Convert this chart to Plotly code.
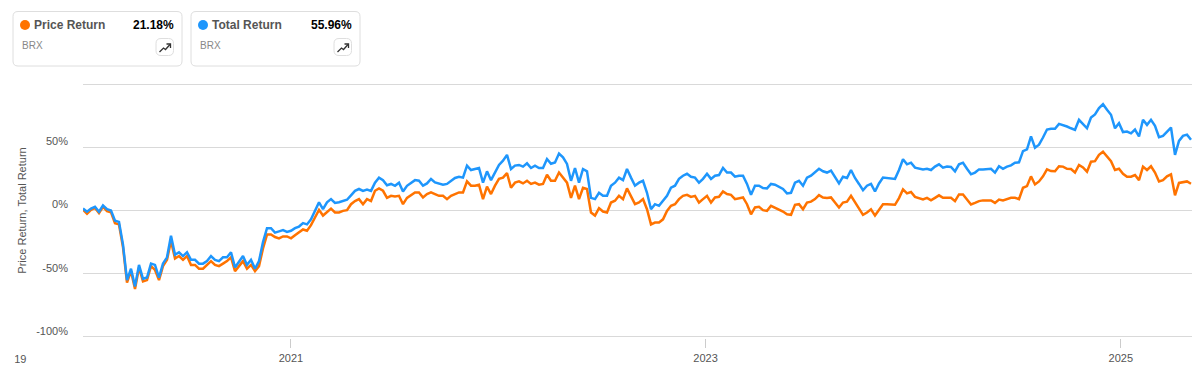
import pandas as pd
import plotly.graph_objects as go

W, H = 1198, 388
L, R, T, B = 83, 1192, 83, 338

START_DATE = "2020-01-01"
DAYS_PER_PX = 1.7604

total_return = [
    1.5,-1,1.5,3,-1,4,1,0,-8,-9,-27,-55,-46,-60,-43,-54,-53,-42,-43,-53,-42,-37,-20,-35,-33,-36,-33,-39,-39,-42,-42,-40,-36,-39,-40,-37,-37,-33,-45,-40,-36,-43,-39,-46,-40,-25,-14,
    -14,-17.5,-16.5,-15.5,-17,-16,-14,-12.7,-10,-11,-7,0.5,6.5,1,6.5,9,6,6.5,7.5,8.5,12,15.5,17,15.5,16.5,15.5,22,26,24,20,21,19.5,22,15,19.5,21.7,24,23.5,
    19.6,21.4,24.9,22.2,21.4,20.4,21,23.5,25.7,26.7,26,35.5,32,32.8,33.6,22,31,24,30,36,39.4,44,32.8,35.5,36,34.7,37.3,33.6,35.5,33.6,33.6,40.7,37,38,45,42,36.8,23.5,33.6,22,
    32.8,31,10,9,14,11.6,11.6,19.6,22,26,24,32.8,26,19.6,22,23.5,14,1,5,3.7,7.7,11.6,18,19.6,25,27.5,29,26.7,26,22,25,29,25,27.5,28,33.6,30,30,26.7,27.5,
    27.5,21,12.4,19.6,19.6,17.7,17.5,21,20.4,18.8,17,13.5,14,22,23.5,19.6,26,27.5,30,33,31,30,31.5,26,21.4,26.7,25.7,32,25.7,21,16,19.6,21,15,21.4,26,25.7,25.7,25,32,
    40.5,36.5,37.8,33.9,33,32.5,33,32,34.7,36.5,33.9,34.7,34.4,31,36.5,37.8,33,28.6,30,32.5,32.5,33,33,30,35,33,34.7,35.7,37.8,38,47,48.4,58.6,49.7,52,57.7,64,
    64.6,64.6,68.5,67.7,66.4,65,63.8,71.7,68,65,73.5,76,81,84,79.6,75.7,65,69,62,62.4,61,64,58.5,71.7,67.7,71.7,67,58,59,62,65.6,44,55,59,60,55.96,
]

price_return = [
    0.5,-2.5,0.5,2,-2,3,-0.5,-1.5,-10,-11,-29,-57,-48,-62,-45,-56,-55,-44,-47,-55,-44,-39,-24,-38,-36,-39,-36,-43,-43,-46,-46,-43,-40,-43,-44,-42,-40,-37,-48,-44,-40,-46,-43,-48,-44,-30,-19,
    -19,-21,-22,-20.5,-20.5,-22,-19.5,-17,-15,-16,-11.6,-5.5,0.5,-4,-1,1.5,-1.5,-1.5,-0.3,0.3,5,7.5,9,5,9,7.5,15.6,17.5,15.6,10,11.6,11,11.6,5,10,12,14.3,14.3,
    10.3,13,14.3,13,11.6,11.6,9,11.6,13,14.3,14.3,23,19.6,19.6,20.4,9,18.8,13,19.6,25,26,29.6,18,22,23,21.4,23.5,21,22,20.4,21,28.3,23.5,23.5,30,26,22,10,19.6,9,
    18,17,-1.6,-4,1.9,-0.8,-1.6,6.3,7.7,11.6,9,17.5,11.6,5,6.3,9,1,-11,-9.5,-9.5,-7,-0.3,3.7,5,9,11.6,12.4,10.8,11.6,6.3,9,11.6,6.3,10.3,10.8,15,13,12.4,9,9.8,
    10.3,5,-3,2.4,2.9,0.3,-0.3,3.7,2.4,1,-0.8,-3,-3.4,4.5,5,1,6.3,7,9,12.2,10.3,9.8,10.3,6.3,2.4,6.3,7,11.6,6.3,1,-3.4,-1.6,1,-4,1,5,5,4.5,4.5,9.8,
    16.7,13.5,14.6,10.8,10,8.7,10,8,10,12,10,10,10,7.4,12.7,12.7,8.7,4.8,6,7.4,8,8,8,6,8.7,8,9.3,10,10,9,18,19.3,27,20.6,23,27,32.5,
    31.2,31,35,34.7,33,32.8,30,36,34,30.7,38.6,39,44,46.5,42.6,39,32,33,29,26.7,26.7,28,24,34.7,32,35,30,23,24,27,28.6,12,21.8,22.5,23,21.18,
]

y_ticks = [-100, -50, 0, 50, 100]
y_labels = ["-100%", "-50%", "0%", "50%", ""]
x_ticks = ["2021-01-01", "2023-01-01", "2025-01-01"]
x_labels = ["2021", "2023", "2025"]
y_title = "Price Return, Total Return"
clipped_label = "2019"

cards = [
    {"left": 13, "name": "Price Return", "value": "21.18%", "sub": "BRX", "color": "#FF7300"},
    {"left": 191, "name": "Total Return", "value": "55.96%", "sub": "BRX", "color": "#1E96FC"},
]

ORANGE = cards[0]["color"]
BLUE = cards[1]["color"]
GRID = "#D9D9D9"
TEXT = "#555555"
FONT = "Liberation Sans"

dates = pd.date_range(START_DATE, periods=len(total_return), freq=pd.Timedelta(days=DAYS_PER_PX * 4))
x_end = pd.Timestamp(START_DATE) + pd.Timedelta(days=(R - L) * DAYS_PER_PX)

fig = go.Figure()
fig.add_trace(go.Scatter(x=dates, y=price_return, mode="lines", name="Price Return",
                         line=dict(color=ORANGE, width=2.5), showlegend=False))
fig.add_trace(go.Scatter(x=dates, y=total_return, mode="lines", name="Total Return",
                         line=dict(color=BLUE, width=2.5), showlegend=False))


def px(x):
    return (x - L) / (R - L)


def py(y):
    return (B - y) / (B - T)


def round_rect(x0, y0, x1, y1, r):
    a, b, c, d = px(x0), py(y0), px(x1), py(y1)
    rx, ry = r / (R - L), r / (B - T)
    return (f"M{a+rx},{b} L{c-rx},{b} Q{c},{b} {c},{b-ry} L{c},{d+ry} Q{c},{d} {c-rx},{d} "
            f"L{a+rx},{d} Q{a},{d} {a},{d+ry} L{a},{b-ry} Q{a},{b} {a+rx},{b} Z")


shapes, notes = [], []


def text(x, y, s, size, color, anchor="left", bold=False, **kw):
    notes.append(dict(xref="paper", yref="paper", x=px(x), y=py(y), text=f"<b>{s}</b>" if bold else s,
                      showarrow=False, xanchor=anchor, yanchor="middle",
                      font=dict(family=FONT, size=size, color=color), **kw))


for c in cards:
    x = c["left"]
    shapes.append(dict(type="path", xref="paper", yref="paper", path=round_rect(x, 11.5, x + 169, 66, 5),
                       line=dict(color="#DEDEDE", width=1), fillcolor="white"))
    shapes.append(dict(type="circle", xref="paper", yref="paper", x0=px(x + 7), x1=px(x + 17),
                       y0=py(30), y1=py(20), fillcolor=c["color"], line=dict(width=0)))
    text(x + 19, 25, c["name"], 12, TEXT, bold=True)
    text(x + 163, 25, c["value"], 12, "#000000", anchor="right", bold=True)
    text(x + 7, 45.5, c["sub"], 10, "#888888")
    shapes.append(dict(type="path", xref="paper", yref="paper", path=round_rect(x + 143, 38.5, x + 160.5, 55.5, 5),
                       line=dict(color="#DEDEDE", width=1), fillcolor="white"))
    trend = [(x + 146.5, 52), (x + 150.5, 48), (x + 152.5, 49.5), (x + 157, 44.5)]
    shapes.append(dict(type="path", xref="paper", yref="paper",
                       path="M" + " L".join(f"{px(a)},{py(b)}" for a, b in trend),
                       line=dict(color="#333333", width=1.3)))
    head = [(x + 153.5, 44), (x + 157.5, 44), (x + 157.5, 48)]
    shapes.append(dict(type="path", xref="paper", yref="paper",
                       path="M" + " L".join(f"{px(a)},{py(b)}" for a, b in head),
                       line=dict(color="#333333", width=1.3)))

text(28, 358.5, clipped_label, 11, TEXT, anchor="right")
notes.append(dict(xref="paper", yref="paper", x=px(0), y=py(358), text=" ", showarrow=False, xanchor="left",
                  yanchor="middle", width=12.7, height=16, bgcolor="white", borderpad=0,
                  font=dict(family=FONT, size=11)))

fig.update_layout(
    width=W, height=H, autosize=False,
    margin=dict(l=L, r=W - R, t=T, b=H - B, pad=0),
    paper_bgcolor="white", plot_bgcolor="white",
    font=dict(family=FONT, size=11, color=TEXT),
    shapes=shapes, annotations=notes,
    xaxis=dict(type="date", range=[pd.Timestamp(START_DATE), x_end], tickmode="array", tickvals=x_ticks,
               ticktext=x_labels, showgrid=False, zeroline=False, showline=False, ticks="outside",
               ticklen=9, tickcolor="#CCCCCC", tickwidth=1, ticklabelstandoff=1, tickfont=dict(size=11, color=TEXT)),
    yaxis=dict(range=[-100.8, 100.8], tickmode="array", tickvals=y_ticks, ticktext=y_labels, showgrid=True,
               gridcolor=GRID, gridwidth=1, zeroline=False, showline=False, ticks="",
               ticklabelshift=-6, ticklabelstandoff=14, tickfont=dict(size=11, color=TEXT),
               title=dict(text=y_title, standoff=7, font=dict(size=11, color=TEXT))),
)

fig.write_html("out.html", config={"displayModeBar": False}, post_script="document.body.style.margin='0';")
